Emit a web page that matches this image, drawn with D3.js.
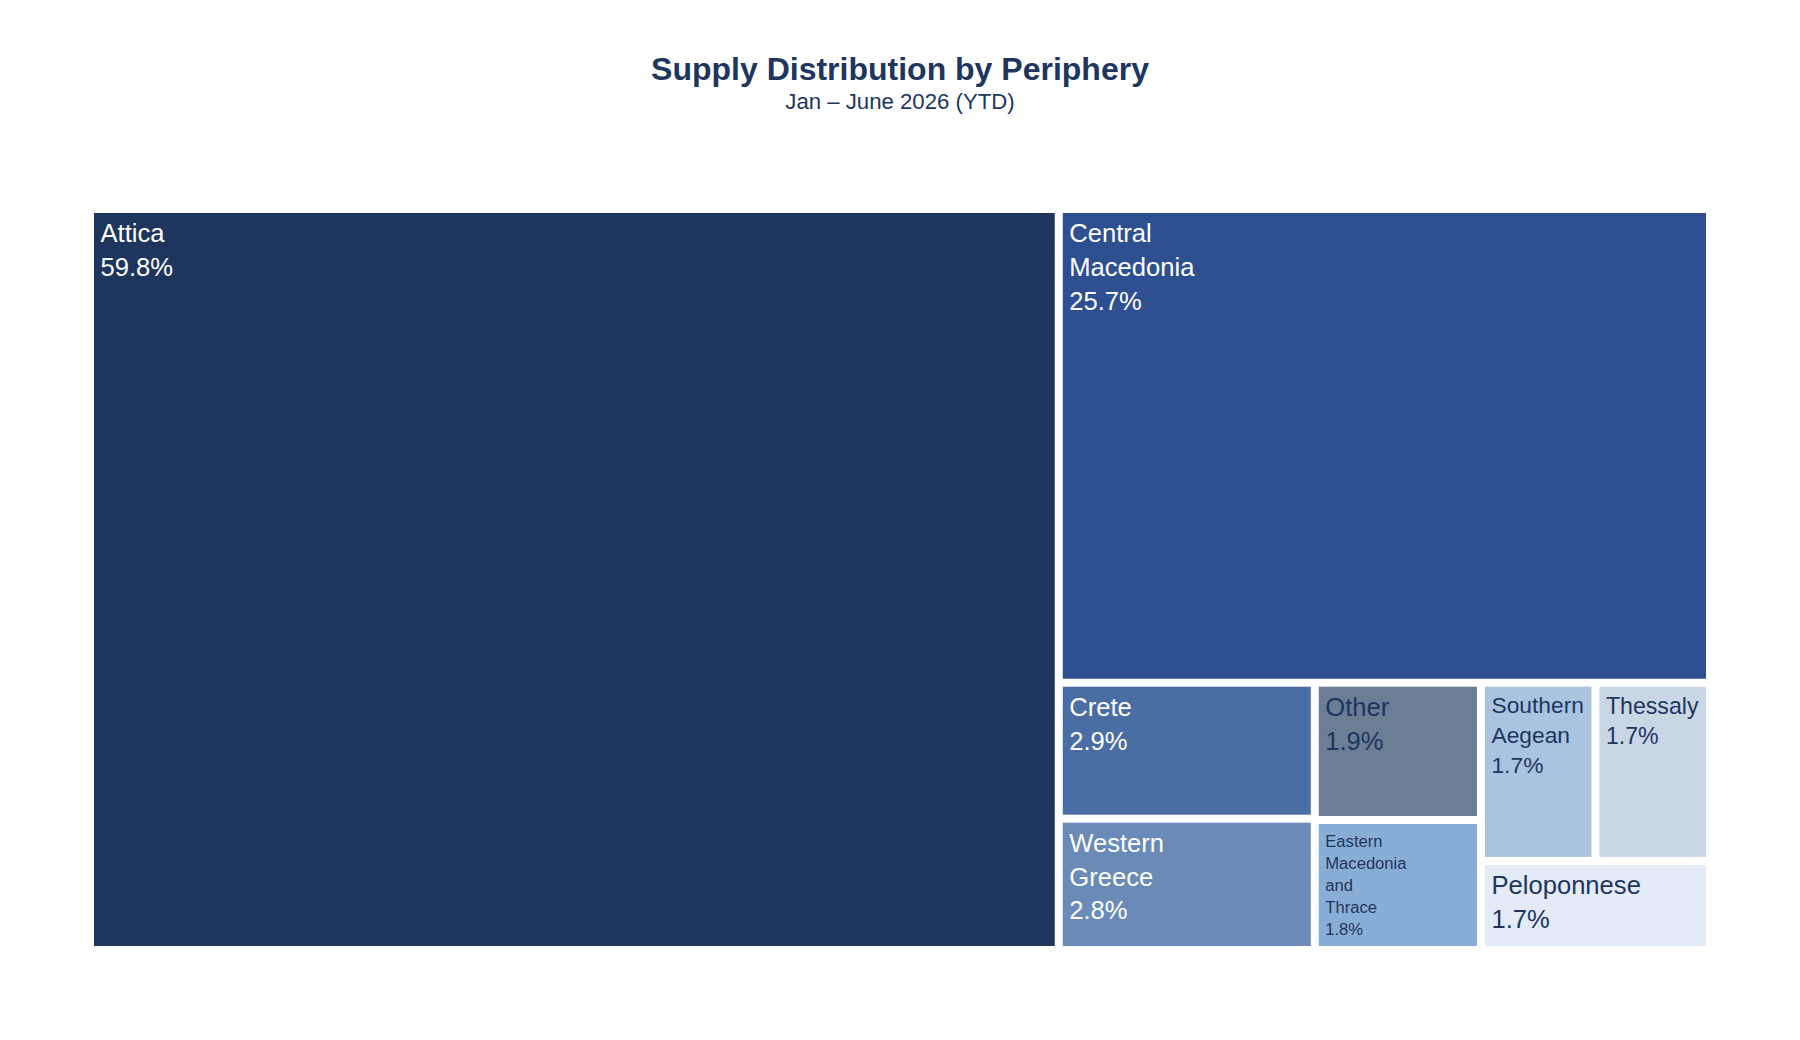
<!DOCTYPE html>
<html>
<head>
<meta charset="utf-8">
<script src="https://cdn.jsdelivr.net/npm/d3@7"></script>
<style>
  body { margin: 0; background: #fff; }
  text { font-family: "Liberation Sans", Arial, sans-serif; }
</style>
</head>
<body>
<script>
// periphery shares of supply, Jan-June 2026 (percent)
const regions = ["Attica", "Central Macedonia", "Crete", "Western Greece", "Other",
    "Eastern Macedonia and Thrace", "Southern Aegean", "Thessaly", "Peloponnese"]
const shares = [59.8, 25.7, 2.9, 2.8, 1.9, 1.8, 1.7, 1.7, 1.7]

const palette = ["#1e365d", "#2e5090", "#4a6ea3", "#6a8bb8", "#6a7e95",
    "#89aed5", "#a9c4e1", "#c9d6e6", "#e3ebf7"]
const navy = "#1e365d"
// tiles whose labels are drawn in white
const whiteLabels = ["Attica", "Central Macedonia", "Crete", "Western Greece"]

const width = 1800, height = 1040
const margin = {top: 213, right: 94, bottom: 94, left: 94}
const baseFont = 25.6, lineGap = 1.32

const svg = d3.select("body")
    .append("svg")
    .attr("width", width)
    .attr("height", height)

svg.append("text")
    .attr("x", width / 2)
    .attr("y", 79.5)
    .attr("text-anchor", "middle")
    .attr("font-size", 32)
    .attr("font-weight", "bold")
    .attr("fill", navy)
    .text("Supply Distribution by Periphery")

svg.append("text")
    .attr("x", width / 2)
    .attr("y", 109)
    .attr("text-anchor", "middle")
    .attr("font-size", 22.2)
    .attr("fill", navy)
    .text("Jan – June 2026 (YTD)")

const color = d3.scaleOrdinal().domain(regions).range(palette)

const root = d3.hierarchy({children: regions.map((r, i) => ({name: r, value: shares[i]}))})
    .sum(d => d.value || 0)
    .sort((a, b) => b.value - a.value)

d3.treemap()
    .tile(d3.treemapSquarify.ratio(1))
    .size([width - margin.left - margin.right, height - margin.top - margin.bottom])
    .paddingInner(8)(root)

const total = root.value
const pct = d3.format(".1f")

const g = svg.append("g")
    .attr("transform", "translate(" + margin.left + "," + margin.top + ")")

const cells = g.selectAll("g.cell")
    .data(root.leaves()).enter()
    .append("g")
    .attr("class", "cell")
    .attr("transform", d => "translate(" + d.x0 + "," + d.y0 + ")")

cells.append("rect")
    .attr("width", d => d.x1 - d.x0)
    .attr("height", d => d.y1 - d.y0)
    .attr("fill", d => color(d.data.name))

// measure label widths at the base size, then shrink to fit each tile
const probe = svg.append("text").attr("font-size", baseFont)
function measure(s) {
    probe.text(s)
    return probe.node().getComputedTextLength()
}

cells.each(function(d) {
    const lines = d.data.name.split(" ").concat([pct(d.value / total * 100) + "%"])
    const w = d.x1 - d.x0, h = d.y1 - d.y0
    const maxW = d3.max(lines, measure)
    const blockH = ((lines.length - 1) * lineGap + 1.1) * baseFont
    const sw = (w - 14) / maxW
    const sh = (h - 16) / blockH
    const s = Math.min(1, sw, sh)
    const fs = baseFont * s
    let y0 = 6 + 0.9 * fs
    if (sh < sw && sh < 1) {
        y0 = (h - blockH * s) / 2 + 0.93 * fs
    }
    const t = d3.select(this).append("text")
        .attr("font-size", fs)
        .attr("fill", whiteLabels.includes(d.data.name) ? "#ffffff" : navy)
    t.selectAll("tspan")
        .data(lines).enter()
        .append("tspan")
        .attr("x", 6.5)
        .attr("y", (l, i) => y0 + i * lineGap * fs)
        .text(l => l)
})
probe.remove()
</script>
</body>
</html>
